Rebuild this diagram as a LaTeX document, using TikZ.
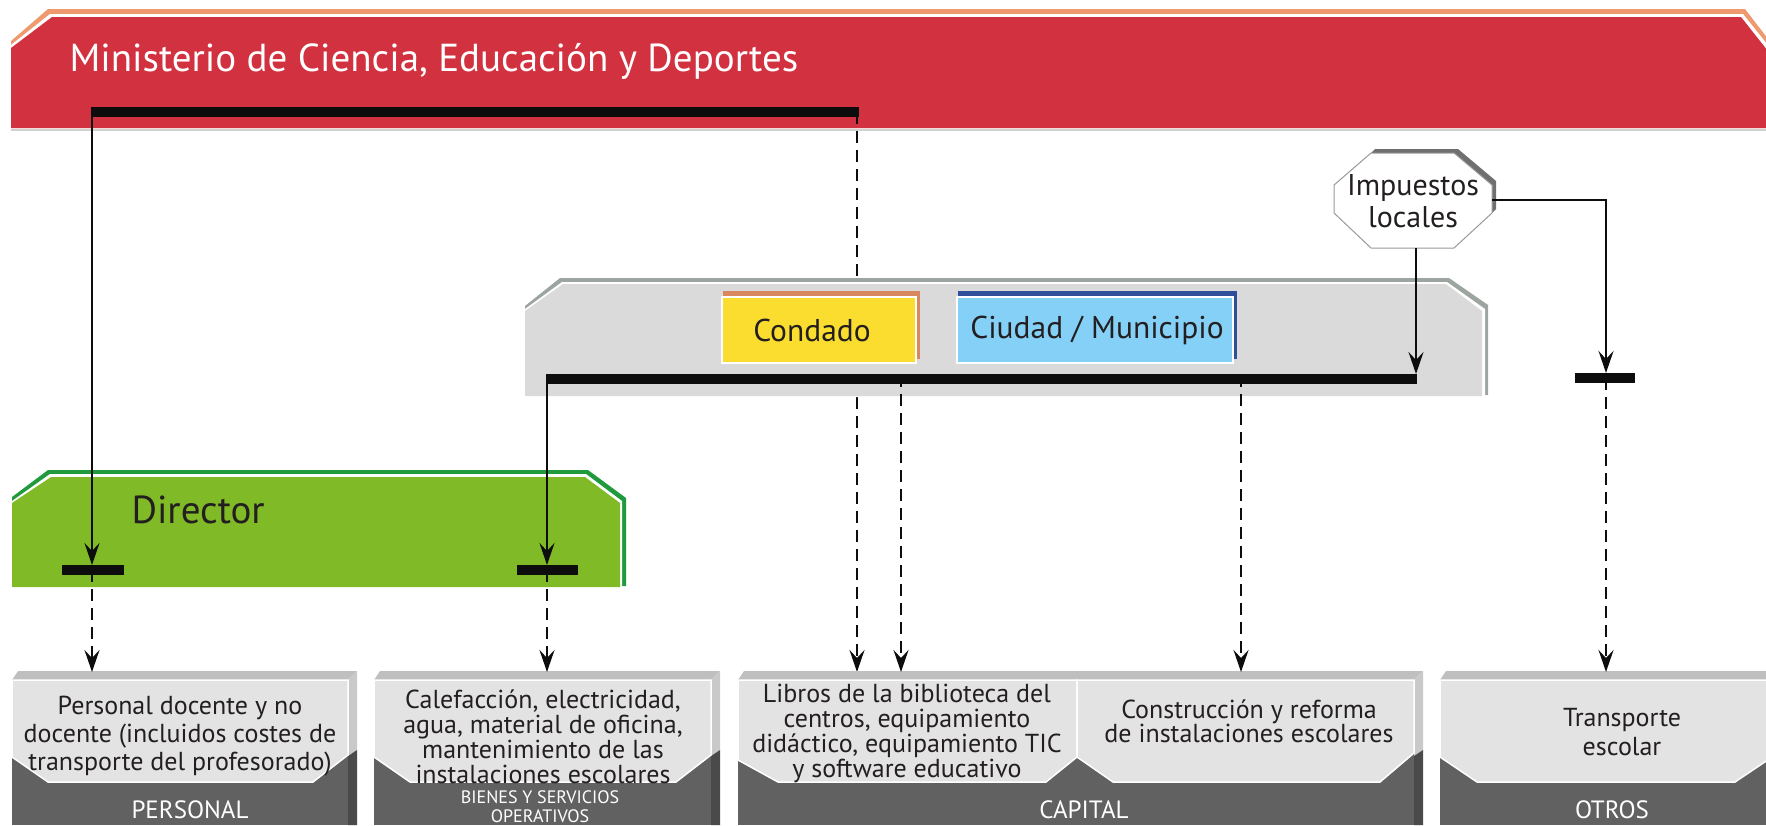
\documentclass[tikz,border=0pt]{standalone}
\usepackage{fontspec}
\setmainfont{PT Sans}
\usetikzlibrary{arrows.meta}
\definecolor{redban}{HTML}{D2313F}
\definecolor{orangetop}{HTML}{EF9A6E}
\definecolor{grayborder}{HTML}{9CA59F}
\definecolor{grayfill}{HTML}{DADADA}
\definecolor{condborder}{HTML}{D9875E}
\definecolor{condfill}{HTML}{FADD2E}
\definecolor{ciuborder}{HTML}{2F4F9B}
\definecolor{ciufill}{HTML}{84D0F6}
\definecolor{greenborder}{HTML}{1F9A3C}
\definecolor{greenfill}{HTML}{80BA27}
\definecolor{lightbox}{HTML}{E3E3E3}
\definecolor{darkbox}{HTML}{616161}
\definecolor{topstrip}{HTML}{BFBFBF}
\definecolor{sidelight}{HTML}{C9C9C9}
\definecolor{sidedark}{HTML}{4A4A4A}
\definecolor{txt}{HTML}{231F20}
\definecolor{octshadow}{HTML}{6F6F6F}
\newcommand{\botbox}[2]{%
  \fill[darkbox] (#1,680) rectangle ({#2-9},825);
  \fill[topstrip] (#1,680)--({#1+6},671)--(#2,671)--({#2-9},680)--cycle;
  \fill[sidelight] ({#2-9},680)--(#2,671)--(#2,750)--({#2-9},756)--cycle;
  \fill[sidedark] ({#2-9},756)--(#2,750)--(#2,825)--({#2-9},825)--cycle;
}
\begin{document}
\begin{tikzpicture}[x=1pt,y=-1pt,
  bar/.style={line width=10pt,black!95},
  conn/.style={line width=2.5pt,black!95,-{Stealth[length=22pt,width=15pt,inset=8pt]}},
  dconn/.style={conn,dash pattern=on 12pt off 7pt},
  lightreg/.style={fill=lightbox,draw=white,line width=1.5pt},
  boxtxt/.style={text=txt,align=center,font=\fontsize{26}{28}\selectfont},
  cattxt/.style={text=white,align=center,font=\fontsize{25}{28}\selectfont},
  lbl/.style={text=txt,font=\fontsize{31.5}{36}\selectfont}]
\clip (0,0) rectangle (1766,825);
% ---------- banner
\fill[orangetop] (11,41)--(48,9)--(1745,9)--(1775,48)--(1775,128)--(11,128)--cycle;
\fill[white] (11,45)--(50,14)--(1743,14)--(1775,54)--(1775,128)--(11,128)--cycle;
\fill[redban] (11,48)--(52,17)--(1741,17)--(1775,60)--(1775,128)--(11,128)--cycle;
\draw[black!18,line width=2pt] (11,130)--(1766,130);
\node[anchor=base west,text=white,font=\fontsize{39}{46}\selectfont] (min) at (66,71) {Ministerio de Ciencia, Educación y Deportes};
% ---------- coordinates
\coordinate (mL) at (92,112);
\coordinate (mR) at (857,112);
\coordinate (gL) at (547,379);
\coordinate (gR) at (1416,379);
\coordinate (gRtop) at (1416,374);
\coordinate (dA) at (92,570);
\coordinate (dAtop) at (92,565);
\coordinate (dB) at (547,570);
\coordinate (dBtop) at (547,565);
\coordinate (tB) at (1606,378);
\coordinate (tBtop) at (1606,373);
\coordinate (b1) at (92,672);
\coordinate (b2) at (547,672);
\coordinate (b3a) at (857,672);
\coordinate (b3b) at (901,672);
\coordinate (b3c) at (1241,672);
\coordinate (b4) at (1606,672);
\coordinate (g2) at (901,379);
\coordinate (g3) at (1241,379);
% ministry dashed line (behind the county panel)
\draw[dconn] (mR) -- (b3a);
% ---------- county / municipality panel
\fill[grayborder] (525,306)--(560,278)--(1449,278)--(1488,305)--(1488,395)--(525,395)--cycle;
\fill[white] (525,309)--(562,282)--(1447,282)--(1485,309)--(1485,397)--(525,397)--cycle;
\fill[grayfill] (525,311)--(563,284)--(1446,284)--(1482,311)--(1482,396)--(525,396)--cycle;
\fill[condborder] (723,291) rectangle (920,359);
\fill[white] (721,296) rectangle (917,364);
\fill[condfill] (723,298) rectangle (915,362);
\node[lbl] (cond) at (812,330) {Condado};
\fill[ciuborder] (958,291) rectangle (1237,359);
\fill[white] (956,296) rectangle (1234,364);
\fill[ciufill] (958,298) rectangle (1232,362);
\node[lbl] (ciu) at (1097,330) {Ciudad / Municipio};
% ---------- local taxes octagon
\fill[octshadow] (1375,149)--(1458,149)--(1496,181)--(1496,209)--(1492,213)--(1492,185)--(1454,153)--(1371,153)--cycle;
\filldraw[fill=white,draw=black!40,line width=1pt] (1371,153)--(1454,153)--(1492,185)--(1492,213)--(1454,248)--(1371,248)--(1334,213)--(1334,185)--cycle;
\node[text=txt,align=center,font=\fontsize{30}{32}\selectfont] (imp) at (1413,201) {Impuestos\\locales};
\coordinate (impB) at (1416,248);
\coordinate (impR) at (1492,200);
% ---------- director panel
\fill[greenborder] (12,497)--(48,470)--(588,470)--(626,498)--(626,586)--(12,586)--cycle;
\fill[white] (12,501)--(50,474)--(586,474)--(622,501)--(622,589)--(12,589)--cycle;
\fill[greenfill] (12,503)--(51,477)--(585,477)--(620,503)--(620,587)--(12,587)--cycle;
\node[anchor=base west,text=txt,font=\fontsize{39}{46}\selectfont] (dir) at (128,523) {Director};
% ---------- bottom boxes
\botbox{12}{357}
\botbox{374}{720}
\botbox{738}{1423}
\botbox{1440}{1790}
\path[lightreg] (12,680)--(348,680)--(348,755)--(313,782)--(48,782)--(12,757)--cycle;
\path[lightreg] (374,680)--(711,680)--(711,755)--(676,782)--(410,782)--(374,757)--cycle;
\path[lightreg] (738,680)--(1077,680)--(1077,757)--(1046,782)--(778,782)--(738,760)--cycle;
\path[lightreg] (1077,680)--(1414,680)--(1414,753)--(1380,782)--(1113,782)--(1077,757)--cycle;
\path[lightreg] (1440,680)--(1790,680)--(1790,745)--(1735,782)--(1477,782)--(1440,757)--cycle;
\node[boxtxt] (t1) at (180,736) {Personal docente y no\\docente (incluidos costes de\\transporte del profesorado)};
\node[boxtxt,font=\fontsize{26}{25}\selectfont] (t2) at (543,737) {Calefacción, electricidad,\\agua, material de oficina,\\mantenimiento de las\\instalaciones escolares};
\node[boxtxt,font=\fontsize{26}{25}\selectfont] (t3) at (907,733) {Libros de la biblioteca del\\centros, equipamiento\\didáctico, equipamiento TIC\\y software educativo};
\node[boxtxt,font=\fontsize{26}{24}\selectfont] (t4) at (1249,721) {Construcción y reforma\\de instalaciones escolares};
\node[boxtxt,font=\fontsize{26}{29}\selectfont] (t5) at (1622,732) {Transporte\\escolar};
\node[cattxt,anchor=base] (c1) at (190,818) {PERSONAL};
\node[cattxt,anchor=base,font=\fontsize{18}{19}\selectfont] (c2) at (540,803) {BIENES Y SERVICIOS};
\node[cattxt,anchor=base,font=\fontsize{18}{19}\selectfont] (c2b) at (540,822) {OPERATIVOS};
\node[cattxt,anchor=base] (c3) at (1084,818) {CAPITAL};
\node[cattxt,anchor=base] (c4) at (1612,818) {OTROS};
% ---------- connectors
\draw[bar] ([xshift=-1pt]mL) -- ([xshift=2pt]mR);
\draw[conn] (mL) -- (dAtop);
\draw[bar] ([xshift=-1pt]gL) -- ([xshift=1pt]gR);
\draw[conn] (gL) -- (dBtop);
\draw[conn] (impB) -- (gRtop);
\draw[conn] (impR) -| (tBtop);
\draw[bar] (1575,378) -- (1635,378);
\draw[bar] (62,570) -- (124,570);
\draw[bar] (517,570) -- (578,570);
\draw[dconn] (dA) -- (b1);
\draw[dconn] (dB) -- (b2);
\draw[dconn] ([yshift=4pt]g2) -- (b3b);
\draw[dconn] ([yshift=4pt]g3) -- (b3c);
\draw[dconn] (tB) -- (b4);
\end{tikzpicture}
\end{document}
